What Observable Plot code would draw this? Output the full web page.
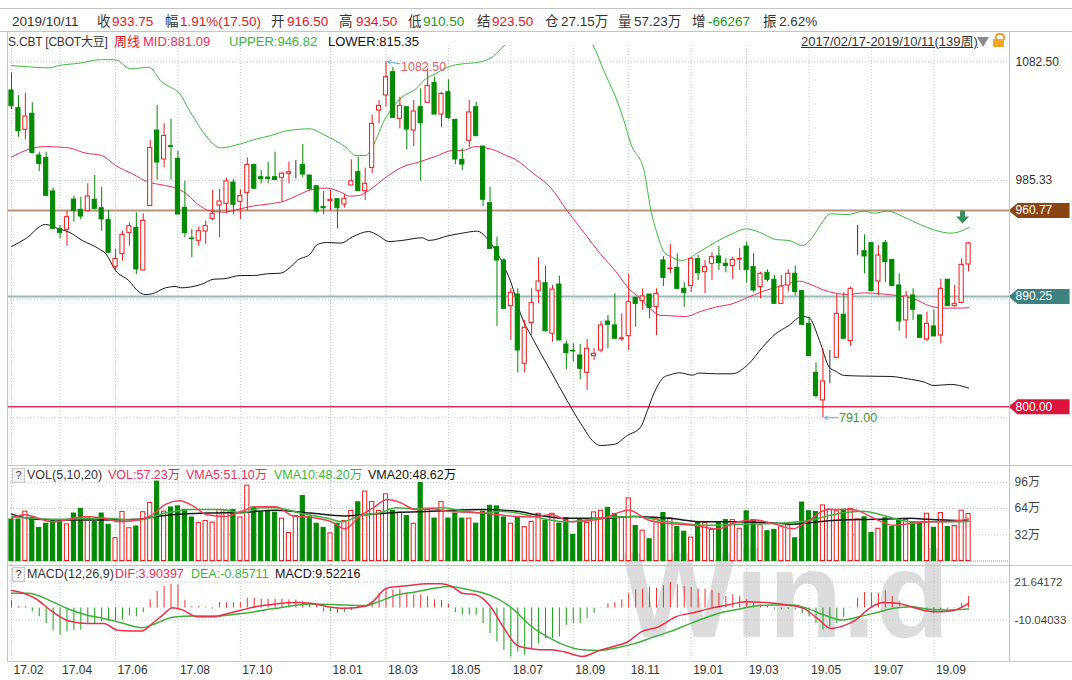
<!DOCTYPE html>
<html><head><meta charset="utf-8">
<script src="https://cdn.jsdelivr.net/npm/d3@7"></script>
<script src="https://cdn.jsdelivr.net/npm/@observablehq/plot@0.6"></script>
<style>
html,body{margin:0;padding:0;background:#fff;}
body{width:1072px;height:680px;position:relative;overflow:hidden;font-family:"Liberation Sans","Noto Sans CJK SC",sans-serif;}
.t{position:absolute;white-space:nowrap;font-size:13.5px;line-height:16px;color:#333;z-index:5;}
.r1{top:14px}.r2{top:34px;font-size:13px}
.red{color:#e8141e}.grn{color:#1a9a1a}
.hl{position:absolute;height:1px;background:#c4c4c4;z-index:4;}
.vl{position:absolute;width:1px;background:#c4c4c4;z-index:4;}
.pane{position:absolute;left:0;z-index:2;}
.wm{position:absolute;left:622px;top:534px;font:bold 122px/122px "Liberation Sans",sans-serif;color:#dcdcdc;z-index:1;transform:scaleX(0.99);transform-origin:0 0;white-space:nowrap;}
.q{position:absolute;left:12px;width:11px;height:13px;border:1px solid #c8c8c8;background:#f2f2f2;font-size:11px;line-height:13px;text-align:center;color:#444;z-index:5;}
.sub{position:absolute;font-size:12.5px;line-height:16px;white-space:nowrap;z-index:5;}
</style></head><body>
<div class="hl" style="left:0;top:8px;width:1072px"></div>
<div class="hl" style="left:0;top:31px;width:1072px"></div>
<div class="t r1" style="left:12px">2019/10/11</div>
<div class="t r1" style="left:97px">收</div><div class="t r1 red" style="left:112px">933.75</div>
<div class="t r1" style="left:165px">幅</div><div class="t r1 red" style="left:180px">1.91%(17.50)</div>
<div class="t r1" style="left:271px">开</div><div class="t r1 red" style="left:287px">916.50</div>
<div class="t r1" style="left:339px">高</div><div class="t r1 red" style="left:356px">934.50</div>
<div class="t r1" style="left:408px">低</div><div class="t r1 grn" style="left:423px">910.50</div>
<div class="t r1" style="left:477px">结</div><div class="t r1 red" style="left:492px">923.50</div>
<div class="t r1" style="left:545px">仓</div><div class="t r1" style="left:561px">27.15万</div>
<div class="t r1" style="left:618px">量</div><div class="t r1" style="left:634px">57.23万</div>
<div class="t r1" style="left:692px">增</div><div class="t r1 grn" style="left:708px">-66267</div>
<div class="t r1" style="left:763px">振</div><div class="t r1" style="left:779px">2.62%</div>

<div class="t r2" style="left:8px;font-size:12px;letter-spacing:-0.2px">S.CBT [CBOT大豆]</div>
<div class="t r2" style="left:114px;color:#e8141e">周线</div>
<div class="t r2" style="left:143px;color:#e8305a">MID:881.09</div>
<div class="t r2" style="left:229px;color:#3cb43c">UPPER:946.82</div>
<div class="t r2" style="left:328px;color:#111">LOWER:815.35</div>
<div class="t r2" style="left:801px;text-decoration:underline">2017/02/17-2019/10/11(139周)</div>
<div style="position:absolute;left:977px;top:37px;width:0;height:0;border-left:6px solid transparent;border-right:6px solid transparent;border-top:10px solid #8a8a8a;z-index:5"></div>
<div style="position:absolute;left:995px;top:33px;width:6px;height:5px;border:2px solid #f0a030;border-bottom:none;border-radius:4px 4px 0 0;z-index:5"></div>
<div style="position:absolute;left:993px;top:39px;width:11px;height:8px;background:#f5a623;z-index:5"></div>

<div class="wm">Win.d</div>

<div class="q" style="top:468px">?</div>
<div class="sub" style="left:27px;top:467px;color:#333">VOL(5,10,20)</div>
<div class="sub" style="left:108px;top:467px;color:#e8305a">VOL:57.23万</div>
<div class="sub" style="left:186px;top:467px;color:#e8305a">VMA5:51.10万</div>
<div class="sub" style="left:274px;top:467px;color:#3cb43c">VMA10:48.20万</div>
<div class="sub" style="left:368px;top:467px;color:#111">VMA20:48.62万</div>

<div class="q" style="top:567px">?</div>
<div class="sub" style="left:27px;top:566px;color:#333">MACD(12,26,9)</div>
<div class="sub" style="left:115px;top:566px;color:#e8305a">DIF:3.90397</div>
<div class="sub" style="left:191px;top:566px;color:#3cb43c">DEA:-0.85711</div>
<div class="sub" style="left:275px;top:566px;color:#111">MACD:9.52216</div>

<div class="vl" style="left:7px;top:31px;height:631px"></div>
<div class="vl" style="left:1009px;top:31px;height:631px"></div>
<div class="hl" style="left:7px;top:465px;width:1065px"></div>
<div class="hl" style="left:7px;top:565px;width:1065px"></div>
<div class="hl" style="left:7px;top:661px;width:1065px"></div>

<div id="main" class="pane" style="top:45px"></div>
<div id="vol" class="pane" style="top:465px"></div>
<div id="macd" class="pane" style="top:565px"></div>

<script>
// ---------- data ----------
const open = [1059.0,1044.5,1026.8,1039.9,1005.8,1003.8,976.3,945.7,944.9,969.7,
961.3,960.2,969.5,962.6,953.1,914.3,925.0,942.4,946.5,911.6,
964.3,1026.2,1002.5,1013.4,1003.0,962.9,937.8,935.9,943.5,953.9,
964.8,966.2,983.6,967.8,975.2,998.1,988.0,987.7,988.0,987.5,
990.8,994.0,998.1,989.4,980.6,963.5,968.4,970.0,965.6,981.2,
992.1,976.6,995.6,1042.6,1054.9,1074.0,1035.8,1045.3,1026.2,1045.3,
1048.9,1065.2,1039.3,1057.6,1035.0,1002.2,1017.8,1045.3,1013.1,966.7,
930.7,919.8,882.4,891.9,835.2,868.5,894.7,901.2,859.8,900.1,
851.0,845.8,842.0,827.8,841.5,846.1,869.8,866.6,855.4,857.8,
889.2,886.5,891.9,881.6,919.8,912.7,913.8,896.6,898.8,920.9,
910.2,917.1,923.1,917.1,915.2,920.6,931.2,914.3,898.0,909.7,
904.0,884.3,899.3,908.9,894.7,867.9,827.8,805.2,829.0,840.1,
875.3,853.8,928.5,927.4,934.0,902.6,934.0,920.3,899.3,870.7,
891.1,874.8,855.1,865.8,858.4,904.0,882.4,885.1,916.5];
const high = [1073.4,1054.9,1056.8,1048.9,1008.5,1008.5,979.0,948.4,959.9,972.5,
971.6,982.6,989.4,979.8,960.7,928.8,943.8,950.6,958.8,958.0,
1018.0,1046.7,1031.7,1035.5,1009.3,984.5,945.2,947.1,952.3,977.1,
977.9,987.2,986.1,977.9,1003.8,998.1,993.5,1000.3,1008.5,992.1,
1000.3,1001.7,1014.8,989.4,980.6,976.3,977.1,970.0,973.5,1002.2,
1004.4,995.4,1039.0,1050.8,1082.5,1078.1,1053.5,1045.3,1050.8,1060.3,
1076.7,1069.9,1057.6,1067.7,1035.0,1011.2,1050.8,1049.4,1013.1,979.8,
938.9,921.2,896.6,896.6,870.7,896.6,922.0,914.9,899.3,907.0,
853.8,851.6,851.0,855.1,847.5,869.8,874.8,892.5,876.1,908.3,
889.2,896.6,891.9,896.6,923.1,932.9,925.3,901.5,922.0,923.9,
919.8,926.1,931.2,921.2,922.5,929.4,934.8,925.3,910.2,912.2,
907.5,907.5,912.2,915.2,894.7,873.4,836.0,847.5,846.1,892.5,
893.3,898.0,948.4,940.8,934.0,932.1,936.2,920.3,908.9,894.7,
896.6,874.8,877.5,879.4,904.2,904.0,899.3,921.2,934.5];
const low = [1043.4,1020.8,1018.6,1007.1,992.6,972.7,945.7,937.5,931.3,951.2,
953.1,960.2,961.3,943.8,926.1,910.2,919.2,931.5,908.1,911.6,
964.3,985.8,995.6,985.8,957.4,938.4,922.0,931.5,932.9,952.5,
938.4,958.0,957.2,953.4,960.2,978.5,982.6,982.6,985.3,968.1,
982.6,986.6,987.5,977.1,958.5,957.2,960.2,945.7,962.6,981.2,
976.6,968.9,990.8,1031.7,1045.3,1036.6,1027.6,1010.4,1013.1,984.7,
1048.9,1039.3,1028.4,1035.2,998.4,993.5,1012.0,1021.6,964.0,929.3,
865.8,880.2,854.3,827.6,827.6,858.4,884.3,861.1,852.9,854.3,
830.3,836.6,822.1,813.4,838.0,844.2,847.5,855.7,853.5,846.1,
865.2,878.9,872.1,858.4,898.5,908.9,896.6,881.6,893.3,903.4,
892.5,903.4,911.6,909.7,904.0,911.6,901.5,893.9,888.4,902.1,
884.3,884.3,893.9,890.6,867.1,841.5,807.4,791.0,818.8,839.3,
855.7,849.4,923.9,908.9,894.7,891.1,901.5,898.8,861.9,855.7,
870.7,856.5,853.5,857.6,851.6,882.4,881.6,884.3,910.5];
const close = [1046.1,1025.7,1037.7,1007.9,998.9,972.7,945.7,942.4,955.3,960.2,
955.8,972.2,962.1,953.4,926.1,921.1,940.8,947.9,912.4,952.3,
1012.0,1000.0,1021.8,1012.8,957.4,942.2,937.3,943.8,947.9,958.0,
968.1,984.5,965.4,972.5,998.1,978.5,986.4,986.6,985.8,990.8,
992.1,994.0,990.2,978.2,959.9,962.6,969.5,962.6,970.3,984.7,
976.6,982.6,1031.7,1046.4,1069.9,1036.6,1046.4,1027.0,1041.8,1032.2,
1062.8,1039.3,1056.2,1036.6,1002.5,998.4,1041.0,1021.6,969.5,929.3,
919.8,880.2,893.3,846.1,864.4,885.1,902.6,861.9,896.0,854.3,
843.9,845.3,831.1,847.5,843.4,866.6,867.1,855.7,856.0,885.7,
884.3,890.3,881.0,892.5,905.6,913.2,896.6,893.3,921.1,909.4,
914.3,922.5,917.6,915.2,920.3,921.1,912.1,895.2,908.9,904.0,
884.3,898.5,908.9,893.9,867.1,841.5,808.7,820.7,829.0,876.1,
855.7,896.6,928.5,923.1,894.7,923.9,918.4,898.8,869.8,890.3,
879.4,856.5,867.9,857.6,896.6,882.4,884.3,916.2,933.75];

const upperIdx = [0,2,5.4,6.8,9.7,13,15,17.2,19.8,21.7,22.9,24.1,25.8,28.2,30.1,33,35.4,37.4,39.8,43.1,45,46.7,48.2,49.6,51.1,52,54,55,56.3,58.3,59.7,61.1,63.1,65,67.4,69.3,70.8,73,76,79,82,84,85.4,87.1,88.3,89.3,91.2,92.2,93.1,94.1,95,96.7,99.1,101.5,103.9,105.9,107.8,110.2,112.1,114,115.5,116.9,118.1,120.5,123,124.4,126.3,128.7,131.1,133,135.4,136.9,138];
const upperVal = [1079.4,1078.6,1077.5,1079.4,1081.3,1084.3,1084.1,1076.7,1078.1,1065.8,1061.7,1057.6,1041.2,1020.8,1012.0,1015.3,1019.4,1022.1,1026.2,1027.6,1022.9,1018.0,1012.6,1005.8,1005.8,1012.6,1037.1,1045.3,1053.5,1060.3,1068.5,1072.6,1078.6,1080.8,1082.2,1086.3,1094.4,1106,1116,1116,1107,1094.4,1075.3,1053.5,1034.4,1015.3,993.5,960.7,941.6,926.6,923.1,919.8,926.6,934.8,941.6,945.7,943.0,936.9,936.2,932.1,938.9,951.2,958.0,957.4,960.2,958.5,960.2,955.3,949.0,944.9,942.2,943.8,946.82];
const midIdx = [0,2.7,4.9,7,8.3,10.7,13,15,17.4,19.8,21.7,23.7,24.9,26.8,28.7,30.6,33,34.9,37.3,39.3,41.2,42.6,44.6,45.5,47.5,48.7,50.1,51.5,54,56.3,58.7,61.1,63.6,65,66.9,68.4,69.8,71.3,72.5,75.3,77.7,80.1,82.5,84.9,87.4,88.8,90.7,92.1,93.6,95,97.2,99.1,101.5,103.9,106.3,108.7,111.2,113.6,115,117,118.8,120.5,123,125.3,127.7,130.1,132.5,134.5,136.4,138];
const midVal = [1004.4,1011.2,1013.1,1012.6,1012.0,1007.7,1005.8,997.6,990.8,983.9,981.7,979.0,975.7,966.2,960.2,959.4,962.1,964.5,966.2,968.4,973.0,976.6,979.0,979.0,975.7,972.5,973.0,977.1,988.0,996.2,1000.3,1004.9,1009.8,1009.8,1013.1,1012.0,1009.8,1005.8,1003.0,990.8,979.8,960.7,943.0,925.3,908.9,898.0,888.4,880.2,874.8,874.5,873.9,877.5,881.6,884.3,889.8,895.2,899.3,902.9,900.7,895.8,893.0,891.9,893.3,892.5,891.1,888.4,882.4,880.8,880.8,881.09];
const lowerIdx = [0,2,4.9,6.8,8.3,10.2,12.6,13.6,15,16.9,18.4,19.3,20.3,22.2,23.7,24.4,27.3,29.2,30.6,33,34.9,36.9,38.8,40.2,41.2,43.1,44.1,45.5,47.5,49.1,51.5,52.9,54.4,56.3,59.2,60.2,63.1,65,67.2,68.4,69.8,70.5,71.3,72,73.4,75.3,77.7,80.1,82.1,84,84.9,86.9,88.8,90.7,91.7,92.6,94.1,95,96.3,98.2,99.1,101.5,103.9,106.3,108.3,110.2,112.1,114,115,116.5,117.9,118.8,120.1,123,126.8,129.2,131.6,133,135.4,138];
const lowerVal = [931.2,937.5,949.3,945.7,943.0,936.2,929.4,925.3,911.6,903.4,893.9,891.9,892.5,897.4,898.5,897.4,900.1,904.5,904.8,907.5,907.5,908.9,909.4,914.3,919.8,925.3,932.9,934.5,934.0,938.9,943.5,940.2,935.3,936.2,938.4,936.2,940.2,942.2,943.8,938.9,928.0,921.2,911.6,902.1,876.1,854.3,829.7,805.2,786.1,771.0,768.3,769.2,776.5,783.3,797.0,810.6,824.3,826.2,827.8,825.9,827.6,827.0,827.0,835.2,848.8,859.8,866.6,874.0,872.9,854.3,832.5,829.2,825.6,825.1,824.8,822.9,820.2,817.4,818.3,815.35];

const volume = [50.6,50.6,60.2,53.1,40.4,45.5,49.7,48.9,44.7,57.9,
63.6,53.1,47.6,57.9,44.2,27.8,59.9,40.0,42.1,59.5,
70.8,96.9,60.2,65.3,66.6,62.4,53.1,46.3,48.9,46.8,
62.4,61.5,62.4,53.1,91.9,65.3,59.5,61.1,58.9,51.6,
34.1,54.8,79.2,53.9,45.5,40.4,33.7,45.5,48.9,61.1,
71.6,84.7,72.1,61.1,81.3,61.1,58.9,54.8,45.5,95.3,
62.4,51.8,72.1,51.8,57.9,51.8,51.8,45.5,60.2,67.4,
66.6,53.1,45.5,53.1,41.3,47.8,57.6,49.1,57.6,45.7,
52.1,32.0,50.8,46.5,59.3,61.4,64.9,57.2,53.3,76.4,
42.7,37.1,26.5,50.8,58.5,52.1,41.4,35.8,28.6,46.5,
46.5,38.0,46.5,49.9,49.9,39.3,60.6,49.9,43.5,36.3,
38.0,42.2,43.5,27.7,71.3,60.6,59.7,67.8,62.7,60.6,
62.7,63.6,50.8,53.3,34.1,39.3,52.1,41.4,50.8,49.9,
46.9,46.5,57.6,40.5,58.5,41.4,42.7,61.4,57.23];
const vma5Idx = [0,1.9,5.9,10.8,13.3,15.8,18.3,20.3,22.2,24.2,26.2,28.2,30.7,33.2,35.2,38.1,40.6,43.1,46.1,48.1,50.1,52.1,54.2,56.2,58.2,60.5,63,67.9,70.4,72.9,74.9,77.8,80.8,84.8,89,91.8,94.8,98.3,101.8,104.8,107.2,109.8,112.7,114.7,117.7,121.2,124.7,127.2,129.7,132.7,134.7,138];
const vma5Val = [52.1,56.3,47.8,54.2,52.1,47.8,49.9,56.3,69.1,73.4,67.0,56.3,54.2,60.6,66.1,66.1,55.0,53.3,47.8,39.3,53.8,64.4,75.1,70.8,62.7,63.6,60.6,58.5,56.3,54.2,53.8,56.3,47.8,50.8,61.9,50.0,45.7,43.5,39.3,47.8,49.9,45.7,39.3,47.8,62.7,62.7,50.8,43.5,45.7,47.8,47.8,51.10];
const vma10Idx = [0,5.9,13.3,18.3,22.2,26.2,30.2,33.2,36.1,38.1,41.6,45.6,47.6,50.6,53,55.5,58,62,65.4,68,70.4,72.9,74.9,79.8,84.8,89.8,94.8,99.8,104.8,109.8,114.7,119.7,122.7,127.2,129.7,134.7,138];
const vma10Val = [54.2,50.8,52.1,49.9,58.5,62.7,62.7,58.5,64.9,64.9,58.5,52.1,47.8,56.3,58.5,64.9,63.6,64.9,60.6,58.5,60.6,58.5,55.0,47.8,52.1,54.2,47.8,43.5,44.8,45.7,49.1,58.5,60.6,52.1,47.8,47.8,48.20];
const vma20Idx = [0,3.4,8.3,13.3,18.3,20.8,23.2,28.2,33.2,38.1,43.1,48.1,50.6,55.5,60.5,68,72.9,75.9,79.8,84.8,89.8,94.8,99.8,104.8,109.8,112.7,114.7,119.7,124.7,129.7,132.2,138];
const vma20Val = [57.2,50.8,49.9,49.9,50.8,54.2,56.3,58.5,59.3,61.9,58.5,55.0,56.3,59.3,60.6,62.7,60.6,56.0,52.1,52.1,54.2,52.1,47.8,47.8,46.5,44.8,46.5,49.9,50.8,52.1,50.8,48.62];

const macdHist = [6.2,1.1,1.1,-3.1,-7.3,-12.9,-19.1,-22.7,-19.9,-18.5,
-18.5,-12.9,-12.9,-11.5,-10.9,-11.5,-10.1,-6.7,-7.3,-3.9,
6.7,13.7,17.9,19.9,19.3,6.2,1.1,1.1,0.6,-0.8,
4.5,4.5,4.5,4.5,8.1,8.1,7.3,7.3,7.3,7.3,
6.7,6.7,5.3,3.9,2.5,-3.1,-3.1,-4.5,-3.9,-2.2,
1.1,1.7,5.3,12.3,16.5,15.1,15.7,12.3,10.9,10.9,
9.5,6.7,6.2,3.4,-3.9,-5.9,-5.9,-5.9,-12.9,-21.3,
-28.3,-35.3,-40.9,-36.7,-39.5,-33.9,-29.7,-25.5,-25.5,-24.1,
-14.3,-12.9,-12.9,-8.7,-4.5,-0.3,3.4,4.5,6.7,11.8,
15.1,15.7,17.4,16.5,18.5,21.3,19.3,17.9,17.1,15.7,
15.7,14.6,12.3,9.5,10.9,9.5,6.7,3.9,2.5,1.1,
-1.1,-1.7,-1.1,-1.7,-4.5,-7.3,-12.9,-18.5,-15.7,-12.9,
-7.8,-0.3,8.1,12.9,12.3,12.3,14.3,9.5,5.3,2.5,
1.1,-1.7,-3.1,-4.5,-1.7,-1.1,0.3,3.4,9.52];
const difIdx = [0,1.4,3.4,5.9,8.3,10.8,13.3,15.3,17.3,18.8,20.3,21.8,23.2,24.7,26.7,29.2,31.2,33.2,35.2,38.1,41.1,43.1,45.6,48.1,51.1,52.1,54.1,57,60,62,63.5,65,67,68.9,70.9,72.9,74.9,76.3,77.8,79.8,82.3,84.8,86.8,88.8,90.8,93.3,95.8,98.3,100.8,103.3,105.8,108.8,111.8,114.2,116.2,118.2,120.2,121.7,123.7,125.7,127.7,129.7,131.7,133.7,135.7,137.2,138];
const difVal = [14.6,12.9,8.1,-3.1,-10.9,-12.9,-12.9,-18.5,-19.1,-19.1,-12.9,-5.9,0.3,-1.7,-7.3,-7.3,-4.5,-1.7,1.1,3.4,4.5,3.9,1.1,-0.3,1.7,5.3,16.5,18.5,20.2,20.2,17.9,12.3,10.9,2.5,-15.7,-31.1,-33.9,-34.8,-34.8,-36.7,-40.4,-35.3,-32.0,-28.3,-19.9,-15.7,-7.3,-3.9,-0.3,2.5,5.3,4.5,2.5,-0.3,-8.7,-17.1,-14.3,-10.1,-0.3,4.5,3.9,1.1,-2.2,-3.1,-2.2,1.1,3.90397];
const deaIdx = [0,2.4,5.9,8.3,10.8,13.3,15.8,18.8,20.8,23.2,26.2,29.2,33.2,38.1,43.1,48.1,51.1,53,55.5,58,61,63,66,68.9,71.9,74.9,76.3,77.3,79.8,82.3,84.8,87.3,89.8,92.3,94.8,97.3,99.8,102.3,104.8,107.3,109.8,112.7,114.7,117.2,119.7,122.2,124.7,127.2,129.7,132.2,134.7,138];
const deaVal = [12.3,12.3,5.3,-1.1,-5.9,-8.7,-12.3,-16.5,-12.9,-7.8,-6.7,-6.7,-4.5,-0.3,3.4,2.5,2.0,5.3,10.9,13.2,16.5,17.9,15.1,10.9,1.1,-15.0,-20.7,-24.1,-31.1,-34.8,-35.3,-33.1,-29.7,-24.7,-19.9,-14.3,-8.7,-3.9,-1.1,1.7,2.5,2.5,-0.3,-5.9,-10.1,-7.3,-3.9,-0.3,1.1,-1.1,-1.7,-0.85711];

const monthIdx = [0,7,15,24,33,46,54,63,72,81,89,98,106,115,124,133];
const monthLabels = ["17.02","17.04","17.06","17.08","17.10","18.01","18.03","18.05","18.07","18.09","18.11","19.01","19.03","19.05","19.07","19.09"];
const priceGrid = [1082.50, 985.33, 888.17, 791.00];
const priceTicks = [1082.50, 985.33];
const tagValues = [960.77, 890.25, 800.00];
const tagColors = ["#8b4513", "#3f8080", "#dc143c"];
const tagLineColors = ["#b8957a", "#9bb9b9", "#e0305a"];
const volTicks = [96, 64, 32];
const macdTicks = [21.64172, -10.04033];
const macdGrid = [21.64172, -10.04033];

// ---------- layout helpers ----------
const N = close.length;
const ids = d3.range(N);
const RED = "#f01a1a", GREEN = "#008a00";
const xDomain = [-0.577, 143.9];
const px2i = p => (p - 11) / 6.935;
const col = i => close[i] > open[i] ? RED : close[i] < open[i] ? GREEN : "#333";
const up = i => close[i] > open[i];
const volUp = i => close[i] > open[i] || (close[i] === open[i] && (i === 0 || close[i] >= close[i - 1]));
const volCol = i => volUp(i) ? RED : GREEN;
const W = 0.3;
const grid = {stroke: "#c8c8c8", strokeDasharray: "1,2"};
const base = {width: 1072, marginLeft: 7, marginRight: 63, marginTop: 0,
  x: {domain: xDomain, axis: null},
  style: {fontFamily: '"Liberation Sans","Noto Sans CJK SC",sans-serif', fontSize: "12px", background: "transparent", overflow: "visible"}};
const series = (xs, ys) => d3.range(xs.length).map(k => ({x: xs[k], y: ys[k]}));

const tagSymbol = {draw(ctx) { ctx.moveTo(-31, 0); ctx.lineTo(-22, -7.5); ctx.lineTo(30, -7.5); ctx.lineTo(30, 7.5); ctx.lineTo(-22, 7.5); ctx.closePath(); }};
const downArrow = {draw(ctx) { ctx.moveTo(-2.5, -7); ctx.lineTo(2.5, -7); ctx.lineTo(2.5, -1); ctx.lineTo(6.5, -1); ctx.lineTo(0, 6); ctx.lineTo(-6.5, -1); ctx.lineTo(-2.5, -1); ctx.closePath(); }};

const hiI = d3.maxIndex(high), loI = d3.minIndex(low);

// ---------- main price panel ----------
const main = Plot.plot({...base, height: 420, marginBottom: 0,
  y: {domain: [751.9, 1095.85], axis: null},
  marks: [
    Plot.ruleX(monthIdx, grid),
    Plot.ruleY(priceGrid, grid),
    Plot.ruleY(tagValues, {stroke: (d, k) => tagLineColors[k], strokeWidth: (d, k) => k === 2 ? 1.3 : 2}),
    Plot.line(series(upperIdx, upperVal), {x: "x", y: "y", stroke: "#40b840", strokeWidth: 1, curve: "monotone-x", clip: true}),
    Plot.line(series(midIdx, midVal), {x: "x", y: "y", stroke: "#e8305a", strokeWidth: 1, curve: "monotone-x", clip: true}),
    Plot.line(series(lowerIdx, lowerVal), {x: "x", y: "y", stroke: "#1a1a1a", strokeWidth: 1, curve: "monotone-x", clip: true}),
    Plot.ruleX(ids, {x: d => d, y1: d => low[d], y2: d => high[d], stroke: col}),
    Plot.rect(ids, {x1: d => d - W, x2: d => d + W, y1: d => open[d], y2: d => close[d], fill: d => up(d) ? "white" : col(d), stroke: col}),
    Plot.arrow([hiI], {x1: d => d + 2.0, y1: d => high[d] - 1.6, x2: d => d + 0.2, y2: d => high[d], stroke: "#5aa8e0", headLength: 5, strokeWidth: 1}),
    Plot.text([hiI], {x: d => d, y: d => high[d], dx: 15, dy: 5, text: d => high[d].toFixed(2), textAnchor: "start", fill: "#e86060", fontSize: 12.5}),
    Plot.arrow([loI], {x1: d => d + 2.2, y1: d => low[d], x2: d => d + 0.25, y2: d => low[d], stroke: "#5aa8e0", headLength: 5, strokeWidth: 1}),
    Plot.text([loI], {x: d => d, y: d => low[d], dx: 16, text: d => low[d].toFixed(2), textAnchor: "start", fill: "#3c9a3c", fontSize: 12.5}),
    Plot.dot([0], {x: px2i(962), y: 955.0, symbol: downArrow, fill: "#3a8f5c", stroke: "none"}),
    Plot.text(priceTicks, {x: px2i(1015), y: d => d, text: d => d.toFixed(2), textAnchor: "start", fill: "#333", fontSize: 12}),
    Plot.dot(tagValues, {x: px2i(1039), y: d => d, symbol: tagSymbol, fill: (d, k) => tagColors[k], stroke: "none"}),
    Plot.text(tagValues, {x: px2i(1015), y: d => d, text: d => d.toFixed(2), textAnchor: "start", fill: "white", fontSize: 12})
  ]});
document.getElementById("main").append(main);

// ---------- volume panel ----------
const vol = Plot.plot({...base, height: 100, marginBottom: 0,
  y: {domain: [-5.49, 116.5], axis: null},
  marks: [
    Plot.ruleX(monthIdx, grid),
    Plot.ruleY(volTicks, grid),
    Plot.ruleY([0], {stroke: "#6aa8dc", strokeDasharray: "1,1"}),
    Plot.rect(ids, {x1: d => d - W, x2: d => d + W, y1: 0, y2: d => volume[d], fill: d => volUp(d) ? "white" : GREEN, stroke: volCol}),
    Plot.line(series(vma20Idx, vma20Val), {x: "x", y: "y", stroke: "#1a1a1a", curve: "monotone-x"}),
    Plot.line(series(vma10Idx, vma10Val), {x: "x", y: "y", stroke: "#40b040", curve: "monotone-x"}),
    Plot.line(series(vma5Idx, vma5Val), {x: "x", y: "y", stroke: "#f0405a", curve: "monotone-x"}),
    Plot.text(volTicks, {x: px2i(1014), y: d => d, text: d => d + "万", textAnchor: "start", fill: "#444", fontSize: 12})
  ]});
document.getElementById("vol").append(vol);

// ---------- MACD panel ----------
const macd = Plot.plot({...base, height: 115, marginBottom: 18,
  y: {domain: [-45.4, 35.4], axis: null},
  marks: [
    Plot.ruleX(monthIdx, grid),
    Plot.ruleY(macdGrid, grid),
    Plot.ruleX(ids, {x: d => d, y1: 0, y2: d => macdHist[d], stroke: d => macdHist[d] >= 0 ? "#f03030" : "#18a018"}),
    Plot.line(series(deaIdx, deaVal), {x: "x", y: "y", stroke: "#3cb03c", curve: "monotone-x"}),
    Plot.line(series(difIdx, difVal), {x: "x", y: "y", stroke: "#e8304a", curve: "monotone-x"}),
    Plot.text(macdTicks, {x: px2i(1014), y: d => d, text: d => d.toFixed(5), textAnchor: "start", fill: "#444", fontSize: 11.5}),
    Plot.text(monthIdx, {x: d => d, y: -52.1, text: (d, k) => monthLabels[k], textAnchor: "start", dx: 2, fill: "#333", fontSize: 12})
  ]});
document.getElementById("macd").append(macd);
</script>
</body></html>
